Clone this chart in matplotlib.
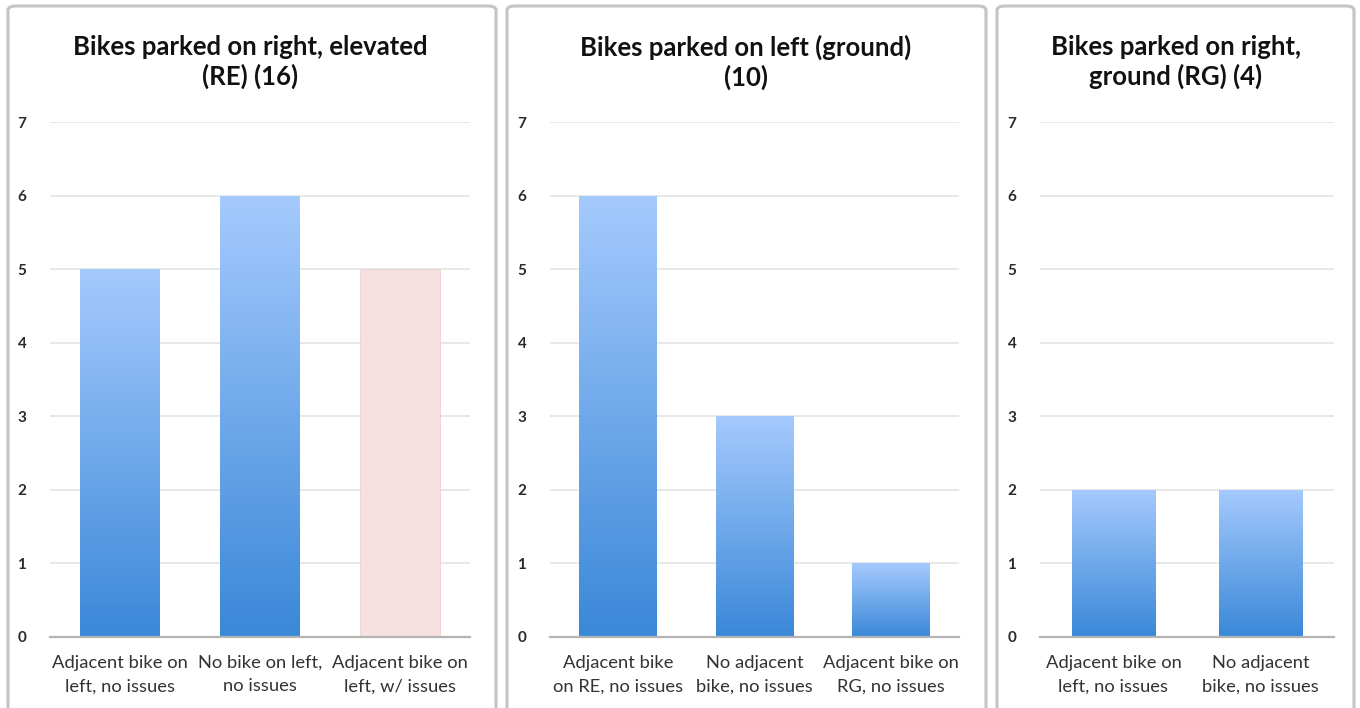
import numpy as np
import matplotlib
matplotlib.use("Agg")
import matplotlib.pyplot as plt
from matplotlib.patches import FancyBboxPatch
from matplotlib.colors import LinearSegmentedColormap

# Panel titles
titles = [
    "Bikes parked on right, elevated\n(RE) (16)",
    "Bikes parked on left (ground)\n(10)",
    "Bikes parked on right,\nground (RG) (4)",
]

# Category labels per panel
cats_re = ["Adjacent bike on\nleft, no issues", "No bike on left,\nno issues", "Adjacent bike on\nleft, w/ issues"]
cats_left = ["Adjacent bike\non RE, no issues", "No adjacent\nbike, no issues", "Adjacent bike on\nRG, no issues"]
cats_rg = ["Adjacent bike on\nleft, no issues", "No adjacent\nbike, no issues"]

# Counts per panel
vals_re = [5, 6, 5]
vals_left = [6, 3, 1]
vals_rg = [2, 2]

# Which bars are drawn flat pink (issues reported)
issue_re = [False, False, True]
issue_left = [False, False, False]
issue_rg = [False, False]

y_ticks = [0, 1, 2, 3, 4, 5, 6, 7]

plt.rcParams['font.family'] = ['Lato', 'DejaVu Sans']

W, H = 1360, 708
fig = plt.figure(figsize=(W / 100, H / 100), dpi=100)
fig.patch.set_facecolor("white")

blue_grad = LinearSegmentedColormap.from_list("bg", ["#3a88d8", "#a5cafd"])
grad = np.linspace(0, 1, 256).reshape(-1, 1)


def px_rect(x0, x1, ytop, ybot):
    return [x0 / W, 1 - ybot / H, (x1 - x0) / W, (ybot - ytop) / H]


# Panel frames (px): left, right, top
frames = [(8, 496, 6), (507, 986, 6), (997, 1354, 6)]
for (x0, x1, yt) in frames:
    box = FancyBboxPatch((x0 / W, -0.05), (x1 - x0) / W, (H - yt) / H + 0.05,
                         boxstyle="round,pad=0,rounding_size=0.006",
                         transform=fig.transFigure, facecolor="white",
                         edgecolor="#c4c4c4", linewidth=2.2, zorder=-1)
    fig.patches.append(box)

panels = [
    (titles[0], cats_re, vals_re, issue_re, (50, 470), 250),
    (titles[1], cats_left, vals_left, issue_left, (550, 959), 746),
    (titles[2], cats_rg, vals_rg, issue_rg, (1040, 1334), 1176),
]

for title, cats, vals, issues, (ax0, ax1), tx in panels:
    ax = fig.add_axes(px_rect(ax0, ax1, 122, 637))
    ax.set_zorder(2)
    ax.set_facecolor("none")
    n = len(cats)
    x = np.arange(n)
    ax.set_xlim(-0.5, n - 0.5)
    ax.set_ylim(0, 7)
    ax.set_yticks(y_ticks)
    ax.set_yticklabels([str(t) for t in y_ticks], fontsize=11, fontweight="bold", color="#2a2a2a")
    ax.tick_params(axis="y", length=0, pad=17)
    ax.set_xticks(x)
    ax.set_xticklabels(cats, fontsize=13.2, color="#333333", linespacing=1.55)
    ax.tick_params(axis="x", length=0, pad=13)
    for s in ["top", "right", "left"]:
        ax.spines[s].set_visible(False)
    ax.spines["bottom"].set_color("#b4b4b4")
    ax.spines["bottom"].set_linewidth(1.6)
    ax.grid(axis="y", color="#e8e8e8", linewidth=1.4)
    ax.set_axisbelow(True)

    bars = ax.bar(x, vals, width=0.57, color="none", edgecolor="none", zorder=2)
    for b, v, iss in zip(bars, vals, issues):
        if iss:
            b.set_facecolor("#f7e0e0")
            b.set_edgecolor("#ecd2d2")
            b.set_linewidth(0.6)
        else:
            bx, by = b.get_x(), b.get_y()
            bw, bh = b.get_width(), b.get_height()
            im = ax.imshow(grad, cmap=blue_grad, origin="lower", aspect="auto",
                           extent=[bx, bx + bw, by, by + bh], zorder=2,
                           interpolation="bilinear")
            im.set_clip_path(b)
    ax.set_xlim(-0.5, n - 0.5)
    ax.set_ylim(0, 7)

    fig.text(tx / W, 1 - 62 / H, title, ha="center", va="center", fontsize=18.5,
             fontweight="bold", color="#111111", linespacing=1.22)

fig.savefig("out.png", dpi=100, facecolor="white")
